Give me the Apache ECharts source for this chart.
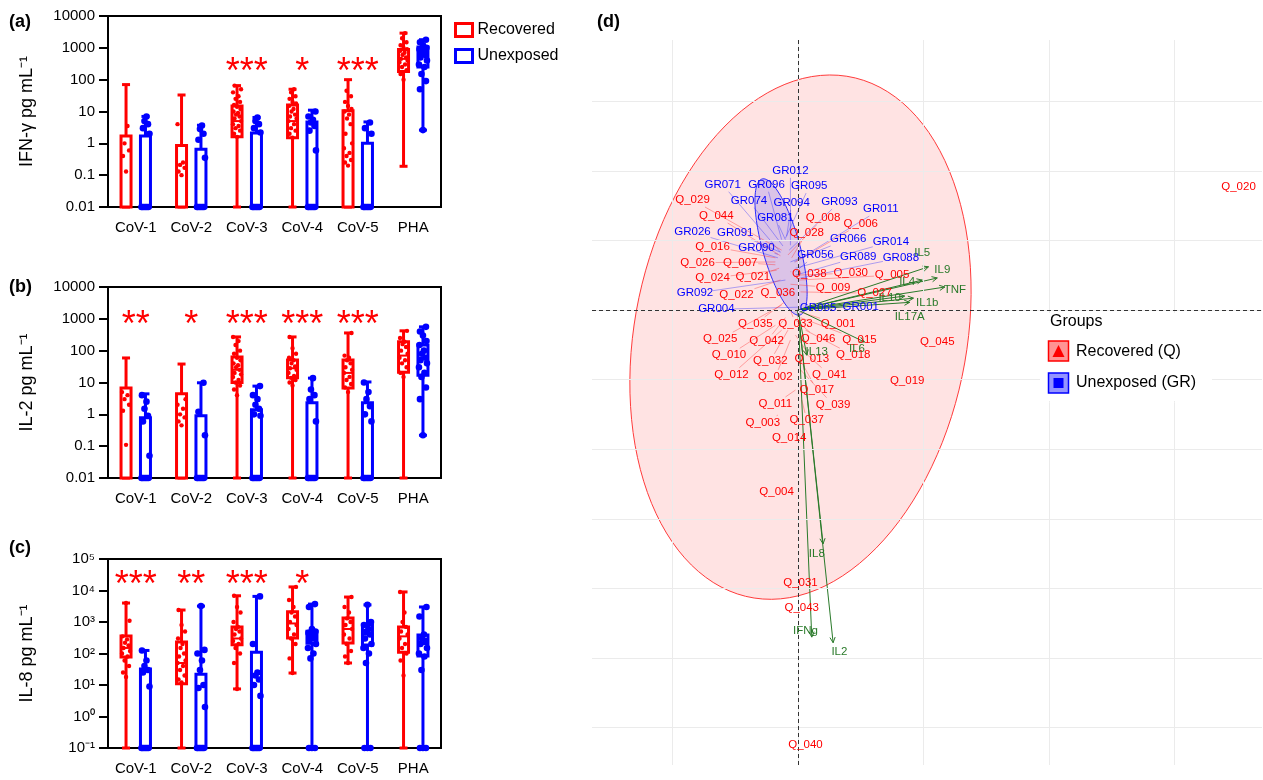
<!DOCTYPE html>
<html><head><meta charset="utf-8">
<script src="https://cdn.jsdelivr.net/npm/echarts@6/dist/echarts.min.js"></script>
<style>html,body{margin:0;padding:0;background:#fff;} #chart{width:1263px;height:780px;}</style>
</head><body><div id="chart"></div>
<script>
// ---------------- data: panels a-c ----------------
const categories = ['CoV-1','CoV-2','CoV-3','CoV-4','CoV-5','PHA'];
const tickLabelsAB = ['0.01','0.1','1','10','100','1000','10000'];
const tickLabelsC = ['10\u207B\u00B9','10\u2070','10\u00B9','10\u00B2','10\u00B3','10\u2074','10\u2075'];
const yNames = ['IFN-\u03B3 pg mL\u207B\u00B9','IL-2 pg mL\u207B\u00B9','IL-8 pg mL\u207B\u00B9'];
// boxes: [min, q1, median, q3, max]
const ifnRecBox = [[0.01,0.01,0.01,1.7,70],[0.01,0.01,0.01,0.85,33],[0.01,1.6,5,15,65],[0.01,1.5,5,16,50],[0.01,0.01,0.01,10.5,100],[0.19,180,450,880,2900]];
const ifnUnxBox = [[0.01,0.01,0.01,1.7,7],[0.01,0.01,0.01,0.65,3.7],[0.01,0.01,0.01,2.1,6.5],[0.01,0.01,0.01,4.7,11],[0.01,0.01,0.01,1.0,4.7],[2.6,250,600,1070,1800]];
const ifnRecPts = [[0.13,0.4,0.6,1.0,3.5],[0.1,0.13,0.17,0.21,0.25,4],[1.6,2,2.5,3,3.5,4,5,6,7,8,9,10,12,14,16,20,25,30,40,50,65],[1.5,2,2.5,3,4,5,6,7,8,10,12,15,18,20,25,30,40,50],[0.2,0.25,0.3,0.4,0.5,0.7,1,2,4,6,8,10,12,15,20,30,45],[100,150,200,250,300,350,400,450,500,600,700,800,900,1000,1200,1500,2000,2900]];
const ifnUnxPts = [[0.01,0.01,0.01,0.01,0.01,0.01,2,3,4,5,7],[0.01,0.01,0.01,0.01,0.01,0.01,0.35,1.3,2,2.8,3.6],[0.01,0.01,0.01,0.01,0.01,0.01,2.2,3,4,5,6.5],[0.01,0.01,0.01,0.01,0.01,0.01,0.6,2.5,3.5,4.5,5.5,7,10],[0.01,0.01,0.01,0.01,0.01,0.01,2,3,4.5],[2.6,50,90,150,250,300,400,500,600,700,800,900,1000,1200,1500,1800]];
const il2RecBox = [[0.01,0.01,0.01,6.7,59],[0.01,0.01,0.01,4.4,38],[0.01,10,25,63,270],[0.01,14,28,51,270],[0.01,6.7,20,51,360],[0.01,21,70,190,420]];
const il2UnxBox = [[0.01,0.01,0.01,0.78,4.4],[0.01,0.01,0.01,0.9,9.8],[0.01,0.01,0.01,1.4,7.7],[0.01,0.01,0.01,2.3,13.7],[0.01,0.01,0.01,2.3,10.4],[0.22,17,60,150,560]];
const il2RecPts = [[0.11,1.3,2,3,4,5],[0.45,0.6,0.8,1,1.5,2,3],[4,6,8,10,12,15,18,20,25,30,35,40,50,60,80,100,150,200,270],[8,10,12,14,16,20,25,28,32,40,50,60,80,120,270],[5,7,9,12,15,20,25,30,40,50,60,70,360],[15,20,30,40,50,60,80,100,130,160,190,250,420]];
const il2UnxPts = [[0.01,0.01,0.01,0.01,0.01,0.01,0.05,0.6,0.9,1.5,2.5,4],[0.01,0.01,0.01,0.01,0.01,0.01,0.22,1.2,9.8],[0.01,0.01,0.01,0.01,0.01,0.01,0.9,1,1.5,2,3,4,7.7],[0.01,0.01,0.01,0.01,0.01,0.01,0.6,3,4,6,13.7],[0.01,0.01,0.01,0.01,0.01,0.01,0.6,1,1.8,3,5,10],[0.22,3,7,15,20,30,40,50,60,80,100,150,200,300,400,560]];
const il8RecBox = [[0.1,78,150,360,4000],[0.1,11,50,230,2400],[7.5,190,300,690,6800],[24,310,900,2100,13000],[50,215,600,1350,6200],[0.1,110,350,690,9000]];
const il8UnxBox = [[0.1,0.1,0.1,32,125],[0.1,0.1,0.1,22,3200],[0.1,0.1,0.1,110,6500],[0.1,210,350,510,3700],[0.1,185,400,800,3500],[0.1,83,200,390,3000]];
const il8RecPts = [[18,25,40,60,80,100,120,150,180,220,280,350,1100,4000],[12,15,20,30,40,50,60,80,100,150,200,300,500,800,2400],[7.5,50,100,150,200,250,300,400,500,600,700,1000,2000,3000,6800],[24,70,200,300,400,600,800,1000,1500,2000,3000,5000,13000],[50,80,120,200,300,400,600,800,1000,1300,2000,3000,6200],[20,60,100,150,200,300,400,500,700,1000,2000,9000]];
const il8UnxPts = [[0.1,0.1,0.1,0.1,0.1,0.1,9,25,30,40,60,125],[0.1,0.1,0.1,0.1,0.1,0.1,2,8,10,30,60,100,130,3200],[0.1,0.1,0.1,0.1,0.1,0.1,4.5,10,15,20,25,200,6500],[0.1,0.1,0.1,70,100,150,200,250,300,350,400,450,500,600,3000,3700],[0.1,0.1,0.1,50,100,150,200,300,400,500,600,800,1000,3500],[0.1,0.1,0.1,30,80,100,150,200,250,300,400,1500,3000]];
const ifnStars = ['','','***','*','***',''];
const il2Stars = ['**','*','***','***','***',''];
const il8Stars = ['***','**','***','*','',''];
const starLevels = [300, 1150, 27000];

// ---------------- data: panel d (PCA biplot) ----------------
const indNames = ['GR012','GR071','GR096','GR095','Q_029','GR074','GR094','GR093','GR011','Q_044','GR081','Q_008','Q_006','GR026','GR091','Q_028','GR066','GR014','Q_016','GR090','GR056','GR089','GR088','Q_026','Q_007','Q_038','Q_030','Q_005','Q_024','Q_021','Q_009','Q_027','GR092','Q_022','Q_036','GR004','GR065','GR001','Q_035','Q_033','Q_001','Q_025','Q_042','Q_046','Q_015','Q_045','Q_010','Q_032','Q_013','Q_018','Q_012','Q_002','Q_041','Q_019','Q_017','Q_011','Q_039','Q_003','Q_037','Q_014','Q_004','Q_031','Q_043','Q_040','Q_020'];
const indLabelX = [-0.06,-0.60,-0.25,0.09,-0.84,-0.39,-0.05,0.33,0.66,-0.65,-0.18,0.20,0.50,-0.84,-0.50,0.07,0.40,0.74,-0.68,-0.33,0.14,0.48,0.82,-0.80,-0.46,0.09,0.42,0.75,-0.68,-0.36,0.28,0.61,-0.82,-0.49,-0.16,-0.65,0.16,0.50,-0.34,-0.02,0.32,-0.62,-0.25,0.16,0.49,1.11,-0.55,-0.22,0.11,0.44,-0.53,-0.18,0.25,0.87,0.15,-0.18,0.28,-0.28,0.07,-0.07,-0.17,0.02,0.03,0.06,3.51];
const indLabelY = [2.00,1.80,1.80,1.78,1.58,1.57,1.54,1.55,1.45,1.35,1.32,1.32,1.24,1.12,1.11,1.11,1.02,0.98,0.91,0.89,0.79,0.76,0.75,0.68,0.68,0.52,0.53,0.50,0.46,0.47,0.32,0.24,0.24,0.22,0.24,0.01,0.03,0.04,-0.20,-0.20,-0.20,-0.42,-0.45,-0.42,-0.43,-0.46,-0.65,-0.73,-0.70,-0.65,-0.93,-0.96,-0.93,-1.02,-1.15,-1.35,-1.36,-1.62,-1.58,-1.84,-2.61,-3.92,-4.28,-6.25,1.77];
const indX = [-0.06,-0.14,-0.13,-0.10,-0.13,-0.12,-0.09,-0.07,-0.03,-0.14,-0.10,-0.08,-0.02,-0.16,-0.14,-0.05,-0.06,-0.02,-0.18,-0.16,-0.02,-0.02,0.02,-0.18,-0.18,-0.06,-0.02,0.00,-0.17,-0.15,-0.06,0.02,-0.10,-0.14,-0.10,0.00,0.04,0.06,-0.11,-0.06,0.02,-0.13,-0.10,-0.02,0.02,1.11,-0.18,-0.08,-0.02,0.06,-0.13,-0.06,0.03,0.87,0.02,-0.02,0.02,-0.16,0.03,-0.07,-0.17,0.02,0.03,0.06,3.51];
const indY = [0.93,0.83,1.01,1.03,0.86,0.92,1.06,0.86,0.69,0.78,1.01,0.79,0.69,0.75,0.83,0.75,0.69,0.60,0.75,0.80,0.55,0.50,0.46,0.69,0.65,0.55,0.50,0.43,0.57,0.60,0.37,0.26,0.43,0.43,0.32,0.04,0.06,0.06,0.11,0.00,-0.03,0.07,-0.11,-0.14,-0.11,-0.46,-0.22,-0.29,-0.36,-0.29,-0.29,-0.43,-0.57,-1.02,-0.72,-1.15,-0.86,-1.51,-1.29,-1.84,-2.61,-3.92,-4.28,-6.25,1.77];
const varNames = ['IL5','IL9','TNF','IL4','IL10','IL1b','IL17A','IL6','IL13','IL8','IFNg','IL2'];
const varX = [1.04,1.11,1.17,0.99,0.85,0.92,0.89,0.53,0.07,0.20,0.11,0.28];
const varY = [0.62,0.46,0.33,0.43,0.20,0.17,0.11,-0.46,-0.65,-3.36,-4.70,-4.78];
const varLabelX = [0.99,1.15,1.25,0.87,0.73,1.03,0.89,0.47,0.15,0.15,0.06,0.33];
const varLabelY = [0.82,0.57,0.29,0.40,0.17,0.11,-0.10,-0.56,-0.60,-3.51,-4.61,-4.91];
// ellipses: centre (x,y), conjugate semi-axis a (dx,dy), semi-axis b (dx,dy)
const recEllipse = [0.02,-0.39,0.16,3.76,1.35,0.22];
const unxEllipse = [-0.135,0.905,-0.151,0.977,0.143,0.072];
const gridX = [-1,0,1,2,3];
const gridY = [3,2,1,0,-1,-2,-3,-4,-5,-6];

// ---------------- chart ----------------
const FONT = '"Liberation Sans", Arial, Helvetica, sans-serif';
const RED = '#ff0000', BLUE = '#0000ff', GREEN = '#2a7a2a';
const chart = echarts.init(document.getElementById('chart'));
const jitter = [0,-3,3,-1.5,1.5,-4,4,-2.5,2.5,-1,1,-3.5,3.5];

function boxRender(side, color) {
  return function (params, api) {
    const cat = api.value(0);
    const band = params.coordSys.width / categories.length;
    const xc = api.coord([cat, api.value(3)])[0] + side * band * 0.175;
    const y = k => api.coord([cat, api.value(k)])[1];
    const yMin = y(1), yQ1 = y(2), yMed = y(3), yQ3 = y(4), yMax = y(5);
    const hw = 5, cw = 4;
    const st = {stroke: color, lineWidth: 3};
    return {type: 'group', children: [
      {type: 'line', shape: {x1: xc, y1: yMax, x2: xc, y2: yMin}, style: st},
      {type: 'line', shape: {x1: xc - cw, y1: yMax, x2: xc + cw, y2: yMax}, style: st},
      {type: 'line', shape: {x1: xc - cw, y1: yMin, x2: xc + cw, y2: yMin}, style: st},
      {type: 'rect', shape: {x: xc - hw, y: yQ3, width: 2 * hw, height: yQ1 - yQ3}, style: {fill: '#fff', stroke: color, lineWidth: 3}},
      {type: 'line', shape: {x1: xc - hw, y1: yMed, x2: xc + hw, y2: yMed}, style: {stroke: color, lineWidth: 2}}
    ]};
  };
}
function ptsRender(side, color, r) {
  return function (params, api) {
    const cat = api.value(0), k = api.value(2);
    const band = params.coordSys.width / categories.length;
    const p = api.coord([cat, api.value(1)]);
    return {type: 'circle', shape: {cx: p[0] + side * band * 0.175 + jitter[k % jitter.length], cy: p[1], r: r}, style: {fill: color}};
  };
}
function starRender(stars) {
  return function (params, api) {
    const i = params.dataIndex;
    const p = api.coord([api.value(0), api.value(1)]);
    return {type: 'text', x: p[0], y: p[1] + 9, style: {text: stars[i], fill: RED, font: '36px ' + FONT, textAlign: 'center', textVerticalAlign: 'middle'}};
  };
}
function ptsData(groups) {
  const d = [];
  groups.forEach((vals, i) => vals.forEach((v, k) => d.push([i, v, k])));
  return d;
}

const panelBoxes = [[ifnRecBox, ifnUnxBox], [il2RecBox, il2UnxBox], [il8RecBox, il8UnxBox]];
const panelPts = [[ifnRecPts, ifnUnxPts], [il2RecPts, il2UnxPts], [il8RecPts, il8UnxPts]];
const panelStars = [ifnStars, il2Stars, il8Stars];
const gridTops = [16, 287, 559], gridHeights = [191, 191, 189];
const axisMins = [0.01, 0.01, 0.1], axisMaxs = [10000, 10000, 100000];
const axisLabelSets = [tickLabelsAB, tickLabelsAB, tickLabelsC];

const grids = [], xAxes = [], yAxes = [], series = [];
const blackLine = {color: '#000', width: 2};
for (let p = 0; p < 3; p++) {
  grids.push({left: 108, top: gridTops[p], width: 333, height: gridHeights[p], show: true, borderColor: '#000', borderWidth: 2});
  xAxes.push({gridIndex: p, type: 'category', data: categories, boundaryGap: true,
    axisLine: {lineStyle: blackLine}, axisTick: {alignWithLabel: true, length: 8, lineStyle: blackLine},
    axisLabel: {color: '#000', fontSize: 15, fontFamily: FONT, margin: 13}});
  const labels = axisLabelSets[p], minExp = Math.round(Math.log10(axisMins[p]));
  yAxes.push({gridIndex: p, type: 'log', logBase: 10, min: axisMins[p], max: axisMaxs[p], splitNumber: 6,
    axisLine: {show: true, lineStyle: blackLine}, axisTick: {show: true, length: 9, lineStyle: blackLine},
    splitLine: {show: false}, minorTick: {show: false},
    axisLabel: {color: '#000', fontSize: 15, fontFamily: FONT, margin: 13,
      formatter: v => labels[Math.round(Math.log10(v)) - minExp]},
    name: yNames[p], nameLocation: 'middle', nameGap: 72,
    nameTextStyle: {fontSize: 18, color: '#000', fontFamily: FONT}});
  const names = ['Recovered', 'Unexposed'], colors = [RED, BLUE], sides = [-1, 1], radii = [2.2, 3.3];
  for (let g = 0; g < 2; g++) {
    series.push({type: 'custom', name: names[g], xAxisIndex: p, yAxisIndex: p, z: 2,
      renderItem: boxRender(sides[g], colors[g]), color: colors[g],
      data: panelBoxes[p][g].map((b, i) => [i].concat(b)), encode: {x: 0, y: [1, 2, 3, 4, 5]}});
  }
  for (let g = 0; g < 2; g++) {
    series.push({type: 'custom', name: names[g], xAxisIndex: p, yAxisIndex: p, z: 3,
      renderItem: ptsRender(sides[g], colors[g], radii[g]), color: colors[g],
      data: ptsData(panelPts[p][g]), encode: {x: 0, y: 1}});
  }
  const stars = panelStars[p];
  series.push({type: 'custom', name: 'stars' + p, xAxisIndex: p, yAxisIndex: p, z: 4,
    renderItem: starRender(stars), data: stars.map((s, i) => [i, starLevels[p]]), encode: {x: 0, y: 1}});
}

// panel d
grids.push({left: 592, top: 40, width: 670, height: 725, show: false});
xAxes.push({gridIndex: 3, type: 'value', min: -1.641, max: 3.697, show: false});
yAxes.push({gridIndex: 3, type: 'value', min: -6.537, max: 3.879, show: false});
const gl = {color: '#ebebeb', width: 1, type: 'solid'};
const dash = {color: '#333', width: 1, type: [4, 3]};
series.push({type: 'scatter', xAxisIndex: 3, yAxisIndex: 3, z: 1, symbolSize: 0, data: [[0, 0]], silent: true,
  markLine: {silent: true, symbol: ['none', 'none'], label: {show: false}, lineStyle: gl, animation: false,
    data: gridX.map(v => ({xAxis: v})).concat(gridY.map(v => ({yAxis: v})))}});
function ellipseRender(par, fill, stroke) {
  return function (params, api) {
    const pts = [];
    for (let j = 0; j < 120; j++) {
      const t = j / 120 * 2 * Math.PI;
      pts.push(api.coord([par[0] + par[2] * Math.cos(t) + par[4] * Math.sin(t), par[1] + par[3] * Math.cos(t) + par[5] * Math.sin(t)]));
    }
    return {type: 'polygon', shape: {points: pts}, style: {fill: fill, stroke: stroke, lineWidth: 1}};
  };
}
series.push({type: 'custom', xAxisIndex: 3, yAxisIndex: 3, z: 2, silent: true, renderItem: ellipseRender(recEllipse, 'rgba(255,0,0,0.11)', '#ff3b3b'), data: [[recEllipse[0], recEllipse[1]]]});
series.push({type: 'custom', xAxisIndex: 3, yAxisIndex: 3, z: 2, silent: true, renderItem: ellipseRender(unxEllipse, 'rgba(0,0,255,0.14)', '#2b2bff'), data: [[unxEllipse[0], unxEllipse[1]]]});
series.push({type: 'scatter', xAxisIndex: 3, yAxisIndex: 3, z: 2, symbolSize: 0, data: [[0, 0]], silent: true,
  markLine: {silent: true, symbol: ['none', 'none'], label: {show: false}, lineStyle: dash, animation: false,
    data: [{xAxis: 0}, {yAxis: 0}]}});
const isGR = n => n.indexOf('GR') === 0;
series.push({type: 'custom', xAxisIndex: 3, yAxisIndex: 3, z: 3, silent: true,
  data: indNames.map((n, i) => [indX[i], indY[i], indLabelX[i], indLabelY[i]]),
  renderItem: function (params, api) {
    const i = params.dataIndex;
    const p = api.coord([api.value(0), api.value(1)]);
    const l = api.coord([api.value(2), api.value(3)]);
    const dx = p[0] - l[0], dy = p[1] - l[1];
    const hw = indNames[i].length * 3.4 + 1, hh = 7;
    const t = Math.min(dx ? hw / Math.abs(dx) : Infinity, dy ? hh / Math.abs(dy) : Infinity);
    if (!(t < 1)) return {type: 'group', children: []};
    const col = isGR(indNames[i]) ? 'rgba(40,40,255,0.55)' : 'rgba(255,40,40,0.55)';
    return {type: 'line', shape: {x1: l[0] + dx * t, y1: l[1] + dy * t, x2: p[0], y2: p[1]}, style: {stroke: col, lineWidth: 0.7}};
  }});
series.push({type: 'custom', xAxisIndex: 3, yAxisIndex: 3, z: 4, silent: true,
  data: varNames.map((n, i) => [varX[i], varY[i]]),
  renderItem: function (params, api) {
    const o = api.coord([0, 0]), e = api.coord([api.value(0), api.value(1)]);
    const ang = Math.atan2(e[1] - o[1], e[0] - o[0]), h = 6, w = 0.45;
    const a1 = [e[0] - h * Math.cos(ang - w), e[1] - h * Math.sin(ang - w)];
    const a2 = [e[0] - h * Math.cos(ang + w), e[1] - h * Math.sin(ang + w)];
    return {type: 'group', children: [
      {type: 'line', shape: {x1: o[0], y1: o[1], x2: e[0], y2: e[1]}, style: {stroke: GREEN, lineWidth: 1}},
      {type: 'polyline', shape: {points: [a1, e, a2]}, style: {stroke: GREEN, lineWidth: 1, fill: null}}
    ]};
  }});
series.push({type: 'custom', xAxisIndex: 3, yAxisIndex: 3, z: 5, silent: true,
  data: indNames.map((n, i) => [indLabelX[i], indLabelY[i]]),
  renderItem: function (params, api) {
    const i = params.dataIndex, l = api.coord([api.value(0), api.value(1)]);
    return {type: 'text', x: l[0], y: l[1], style: {text: indNames[i], fill: isGR(indNames[i]) ? BLUE : RED, font: '11.5px ' + FONT, textAlign: 'center', textVerticalAlign: 'middle'}};
  }});
series.push({type: 'custom', xAxisIndex: 3, yAxisIndex: 3, z: 5, silent: true,
  data: varNames.map((n, i) => [varLabelX[i], varLabelY[i]]),
  renderItem: function (params, api) {
    const i = params.dataIndex, l = api.coord([api.value(0), api.value(1)]);
    return {type: 'text', x: l[0], y: l[1], style: {text: varNames[i], fill: GREEN, font: '11.5px ' + FONT, textAlign: 'center', textVerticalAlign: 'middle'}};
  }});

const txt = (x, y, s, font, extra) => Object.assign({type: 'text', x: x, y: y, silent: true, z: 10, style: Object.assign({text: s, font: font, fill: '#000', textVerticalAlign: 'middle'}, extra || {})});
const graphics = [
  txt(9, 22, '(a)', 'bold 18px ' + FONT), txt(9, 287, '(b)', 'bold 18px ' + FONT), txt(9, 548, '(c)', 'bold 18px ' + FONT),
  txt(597, 22, '(d)', 'bold 18px ' + FONT),
  {type: 'rect', silent: true, z: 9, shape: {x: 1040, y: 313, width: 172, height: 88}, style: {fill: '#fff'}},
  txt(1050, 322, 'Groups', '16px ' + FONT),
  {type: 'rect', silent: true, z: 10, shape: {x: 1048.5, y: 341, width: 20, height: 20}, style: {fill: 'rgba(255,0,0,0.42)', stroke: RED, lineWidth: 1.5}},
  {type: 'polygon', silent: true, z: 10, shape: {points: [[1058.5, 345], [1052.5, 357], [1064.5, 357]]}, style: {fill: RED}},
  txt(1076, 352, 'Recovered (Q)', '16px ' + FONT),
  {type: 'rect', silent: true, z: 10, shape: {x: 1048.5, y: 373, width: 20, height: 20}, style: {fill: 'rgba(0,0,255,0.42)', stroke: BLUE, lineWidth: 1.5}},
  {type: 'rect', silent: true, z: 10, shape: {x: 1053.5, y: 378, width: 10, height: 10}, style: {fill: BLUE}},
  txt(1076, 383, 'Unexposed (GR)', '16px ' + FONT)
];

chart.setOption({
  animation: false,
  backgroundColor: '#fff',
  grid: grids, xAxis: xAxes, yAxis: yAxes, series: series,
  legend: {left: 449, top: 17, orient: 'vertical', itemWidth: 17, itemHeight: 13, itemGap: 10,
    textStyle: {fontSize: 16, color: '#000', fontFamily: FONT}, selectedMode: false,
    data: [{name: 'Recovered', icon: 'rect', itemStyle: {color: '#fff', borderColor: RED, borderWidth: 3}},
           {name: 'Unexposed', icon: 'rect', itemStyle: {color: '#fff', borderColor: BLUE, borderWidth: 3}}]},
  graphic: graphics
});
</script></body></html>
